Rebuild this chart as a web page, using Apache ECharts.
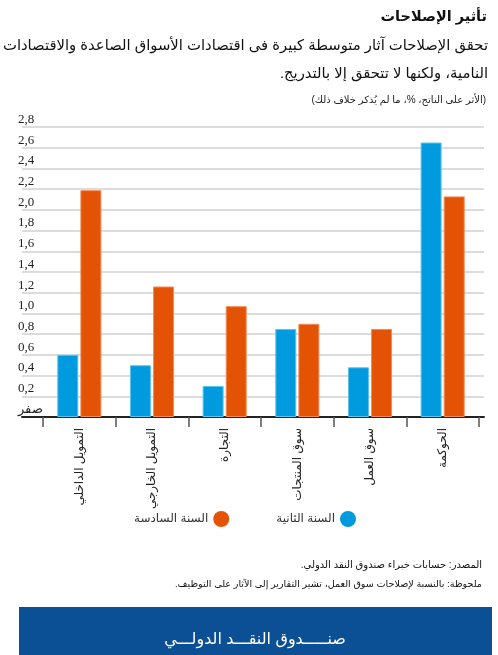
<!DOCTYPE html>
<html>
<head>
<meta charset="utf-8">
<script src="https://cdn.jsdelivr.net/npm/echarts@6/dist/echarts.min.js"></script>
<style>
    html, body { margin: 0; padding: 0; background: #fff; }
    #container { width: 498px; height: 655px; direction: rtl; }
</style>
</head>
<body>
<div id="container"></div>
<script>
// الفئات من اليسار إلى اليمين
var categories = ['التمويل الداخلي', 'التمويل الخارجي', 'التجارة', 'سوق المنتجات', 'سوق العمل', 'الحوكمة'];
var seriesNames = ['السنة الثانية', 'السنة السادسة'];
var year2 = [0.60, 0.50, 0.30, 0.85, 0.48, 2.65];
var year6 = [2.19, 1.26, 1.07, 0.90, 0.85, 2.13];
var yTicks = [0, 0.2, 0.4, 0.6, 0.8, 1.0, 1.2, 1.4, 1.6, 1.8, 2.0, 2.2, 2.4, 2.6, 2.8];

var page = {
    ele: {
        container: document.getElementById('container')
    },
    colors: {
        blue: '#009bde',
        orange: '#e35205',
        banner: '#0b4f94'
    },
    arabicFont: 'Arial, "Liberation Sans", "DejaVu Sans", sans-serif',
    init: function () {
        this.generateCharts();
    },
    //تنسيق تسميات المحور الرأسي
    yLabel: function (v) {
        if (v === 0) return 'صفر';
        return v.toFixed(1).replace('.', ',');
    },
    //نص مثبت من اليمين
    rightText: function (text, x, y, size, weight, color) {
        return {
            type: 'text',
            x: x, y: y,
            style: {
                text: text,
                fill: color || '#111',
                fontSize: size,
                fontWeight: weight || 'normal',
                fontFamily: this.arabicFont,
                align: 'right', verticalAlign: 'middle'
            }
        };
    },
    //بناء الرسم
    generateCharts: function () {
        var that = this;
        var yMin = yTicks[0], yMax = yTicks[yTicks.length - 1];
        var step = yTicks[1] - yTicks[0];
        var plotTop = 127, plotBottom = 238;
        var option = {
            animation: false,
            textStyle: { fontFamily: that.arabicFont },
            legend: {
                data: [seriesNames[1], seriesNames[0]],
                right: 137, top: 506,
                align: 'right',
                icon: 'circle',
                itemWidth: 16, itemHeight: 16,
                itemGap: 47,
                itemStyle: { borderWidth: 0 },
                textStyle: { fontSize: 12, color: '#333', fontFamily: that.arabicFont }
            },
            grid: [
                { left: 22, right: 14, top: plotTop, bottom: plotBottom },
                { left: 43, right: 19, top: plotTop, bottom: plotBottom }
            ],
            xAxis: [
                {
                    type: 'category', gridIndex: 0, data: categories,
                    axisLine: { lineStyle: { color: '#222', width: 2 } },
                    axisTick: { show: false },
                    axisLabel: { show: false }
                },
                {
                    type: 'category', gridIndex: 1, data: categories,
                    axisLine: { show: false },
                    axisTick: { show: true, length: 10, lineStyle: { color: '#555', width: 1.5 } },
                    axisLabel: {
                        interval: 0, rotate: 90, margin: 11,
                        fontSize: 12, color: '#222', fontFamily: that.arabicFont
                    },
                    z: 5
                }
            ],
            yAxis: [
                {
                    type: 'value', gridIndex: 0,
                    min: yMin, max: yMax, interval: step,
                    axisLine: { show: false },
                    axisTick: { show: false },
                    splitLine: { lineStyle: { color: '#dcdcdc', width: 2 } },
                    axisLabel: {
                        align: 'left', verticalAlign: 'bottom', margin: 4,
                        padding: [0, 0, 1, 0],
                        fontSize: 13, color: '#222',
                        fontFamily: '"Liberation Serif", "Times New Roman", serif',
                        formatter: function (v) { return that.yLabel(v); }
                    }
                },
                {
                    type: 'value', gridIndex: 1,
                    min: yMin, max: yMax, interval: step,
                    show: false,
                    splitLine: { show: false }
                }
            ],
            series: [
                {
                    name: seriesNames[0], type: 'bar',
                    xAxisIndex: 1, yAxisIndex: 1,
                    data: year2,
                    barWidth: 21, barGap: '10%',
                    itemStyle: { color: that.colors.blue, borderColor: '#5cc3ee', borderWidth: 1 }
                },
                {
                    name: seriesNames[1], type: 'bar',
                    xAxisIndex: 1, yAxisIndex: 1,
                    data: year6,
                    barWidth: 21, barGap: '10%',
                    itemStyle: { color: that.colors.orange, borderColor: '#f28b5a', borderWidth: 1 }
                }
            ],
            graphic: [
                that.rightText('تأثير الإصلاحات', 487, 17, 14.5, 'bold'),
                that.rightText('تحقق الإصلاحات آثار متوسطة كبيرة فى اقتصادات الأسواق الصاعدة والاقتصادات', 488, 46, 14.8),
                that.rightText('النامية، ولكنها لا تتحقق إلا بالتدريج.', 488, 74, 14.8),
                that.rightText('(الأثر على الناتج، %، ما لم يُذكر خلاف ذلك)', 486, 100, 10, 'normal', '#222'),
                that.rightText('المصدر: حسابات خبراء صندوق النقد الدولي.', 482, 565, 10),
                that.rightText('ملحوظة: بالنسبة لإصلاحات سوق العمل، تشير التقارير إلى الآثار على التوظيف.', 482, 584, 9.6),
                {
                    type: 'rect',
                    shape: { x: 19, y: 607, width: 473, height: 60 },
                    style: { fill: that.colors.banner }
                },
                {
                    type: 'text',
                    x: 255, y: 640,
                    style: {
                        text: 'صنـــــدوق النقـــد الدولـــي',
                        fill: '#fff', fontSize: 16,
                        fontFamily: that.arabicFont,
                        align: 'center', verticalAlign: 'middle'
                    }
                }
            ]
        };
        echarts.init(that.ele.container).setOption(option);
    }
};

page.init();
</script>
</body>
</html>
